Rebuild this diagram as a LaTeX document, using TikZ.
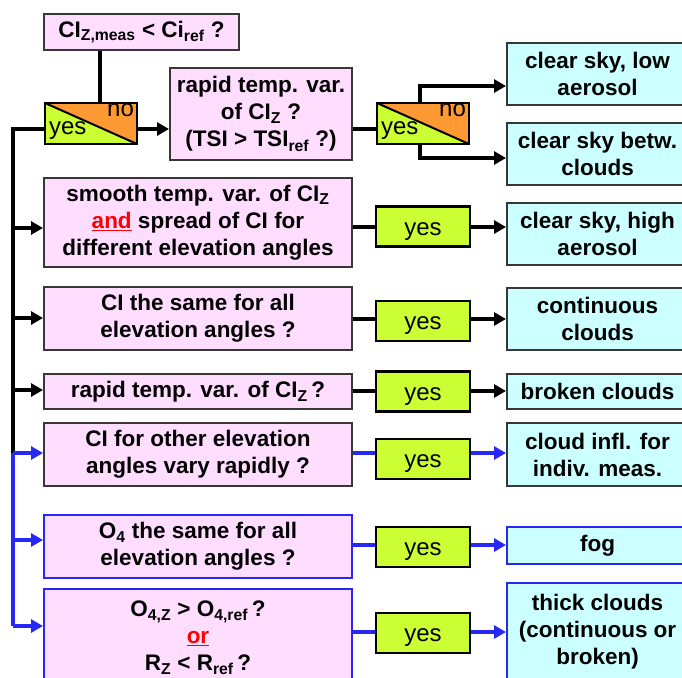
\documentclass[tikz,border=0pt]{standalone}
\usepackage{fontspec}
\setmainfont{Liberation Sans}
\usetikzlibrary{arrows.meta}

\definecolor{qpink}{RGB}{255,221,255}
\definecolor{rcyan}{RGB}{204,255,255}
\definecolor{ygreen}{RGB}{204,255,51}
\definecolor{dorange}{RGB}{255,153,51}
\definecolor{lblue}{RGB}{40,40,245}
\definecolor{bord}{RGB}{55,55,55}

\newcommand\sbs[1]{\textsubscript{#1}}
\newcommand\redul[1]{\textcolor{red}{\underline{#1}}}

\begin{document}
\begin{tikzpicture}[x=1pt,y=-1pt,
  box/.style={draw=bord, line width=2pt, inner sep=0pt, align=center,
    font=\bfseries\fontsize{22.5}{27}\selectfont},
  qbox/.style={box, fill=qpink},
  rbox/.style={box, fill=rcyan, minimum width=181pt},
  ybox/.style={draw=black, line width=2.2pt, fill=ygreen, inner sep=0pt,
    minimum width=94pt, minimum height=40pt, text height=20pt, text depth=3pt,
    font=\fontsize{24}{28}\selectfont},
  decbox/.style={draw=black, line width=2.2pt, fill=ygreen, inner sep=0pt,
    minimum width=92pt, minimum height=41pt,
    path picture={
      \fill[dorange] (path picture bounding box.north west) --
        (path picture bounding box.north east) --
        (path picture bounding box.south east) -- cycle;
      \draw[line width=2pt] (path picture bounding box.north west) --
        (path picture bounding box.south east);}},
  lbl/.style={inner sep=0pt, font=\fontsize{24}{28}\selectfont},
  ln/.style={line width=3.2pt, draw=black},
  arr/.style={ln, -{Triangle[length=12pt,width=13pt]}},
  bl/.style={draw=lblue},
  blarr/.style={arr, draw=lblue, fill=lblue}]

\useasboundingbox (0,0) rectangle (682,677);
\clip (0,0) rectangle (682,677);
\fill[white] (0,0) rectangle (682,677);

% questions on the left
\node[qbox, minimum width=195pt, minimum height=36pt] (top) at (141.5,32)
  {CI\sbs{Z,meas} < Ci\sbs{ref} ?};
\node[decbox] (dec1) at (91,123.5) {};
\node[lbl, anchor=base west] (d1y) at ([xshift=5pt,yshift=11pt]dec1.south west) {yes};
\node[lbl, anchor=base east] (d1n) at ([xshift=-4pt,yshift=-15pt]dec1.north east) {no};
\node[qbox, minimum width=182pt, minimum height=92pt] (rapid1) at (261,114)
  {rapid temp. var.\\ of CI\sbs{Z} ?\\ (TSI > TSI\sbs{ref} ?)};
\node[decbox] (dec2) at (423,123.5) {};
\node[lbl, anchor=base west] (d2y) at ([xshift=5pt,yshift=11pt]dec2.south west) {yes};
\node[lbl, anchor=base east] (d2n) at ([xshift=-4pt,yshift=-15pt]dec2.north east) {no};

\node[qbox, minimum width=308pt, minimum height=89pt] (smooth) at (198,222.5)
  {smooth temp. var. of CI\sbs{Z}\\ \redul{and} spread of CI for\\ different elevation angles};
\node[qbox, minimum width=308pt, minimum height=63pt] (same) at (198,318.5)
  {CI the same for all\\ elevation angles ?};
\node[qbox, minimum width=308pt, minimum height=35pt] (rapid2) at (198,391.5)
  {rapid temp. var. of CI\sbs{Z}\,?};
\node[qbox, minimum width=308pt, minimum height=63pt] (other) at (198,454.5)
  {CI for other elevation\\ angles vary rapidly ?};
\node[qbox, bl, minimum width=308pt, minimum height=63pt] (otwo) at (198,546.5)
  {O\sbs{4} the same for all\\ elevation angles ?};
\node[qbox, bl, minimum width=308pt, minimum height=98pt] (ozr) at (198,638)
  {O\sbs{4,Z} > O\sbs{4,ref}\,?\\ \redul{or}\\ R\sbs{Z} < R\sbs{ref}\,?};

% yes boxes
\node[ybox] (y1) at (423,226.5) {yes};
\node[ybox] (y2) at (423,321) {yes};
\node[ybox] (y3) at (423,391.5) {yes};
\node[ybox] (y4) at (423,459) {yes};
\node[ybox] (y5) at (423,547) {yes};
\node[ybox] (y6) at (423,633) {yes};

% outcomes on the right
\node[rbox, minimum height=62pt] (c1) at (597.5,74) {clear sky, low\\ aerosol};
\node[rbox, minimum height=62pt] (c2) at (597.5,154) {clear sky betw.\\ clouds};
\node[rbox, minimum height=62pt] (c3) at (597.5,234) {clear sky, high\\ aerosol};
\node[rbox, minimum height=62pt] (c4) at (597.5,319) {continuous\\ clouds};
\node[rbox, minimum height=35pt] (c5) at (597.5,391.5) {broken clouds};
\node[rbox, minimum height=63pt] (c6) at (597.5,454.5) {cloud infl. for\\ indiv. meas.};
\node[rbox, bl, minimum height=37pt] (c7) at (597.5,545.5) {fog};
\node[rbox, bl, minimum height=98pt] (c8) at (597.5,632) {thick clouds\\ (continuous or\\ broken)};

% row levels of the connectors
\coordinate (tp) at (100,0);
\coordinate (r0) at (13,129);
\coordinate (r1) at (13,228);
\coordinate (r2) at (13,318);
\coordinate (r3) at (13,390);
\coordinate (r4) at (13,453);
\coordinate (r5) at (13,540);
\coordinate (r6) at (13,626);
\coordinate (a1) at (420,86);
\coordinate (a2) at (420,158);
\coordinate (q1) at (400,227);
\coordinate (q2) at (400,319);
\coordinate (q3) at (400,391);
\coordinate (q4) at (400,453);
\coordinate (q5) at (400,545);
\coordinate (q6) at (400,632);

% top chain
\draw[ln] (top.south -| tp) -- (dec1.north -| tp);
\draw[arr] (dec1.east |- r0) -- (rapid1.west |- r0);
\draw[ln] (rapid1.east |- r0) -- (dec2.west |- r0);
\draw[arr] (dec2.north -| a1) |- (c1.west |- a1);
\draw[arr] (dec2.south -| a2) |- (c2.west |- a2);

% trunk on the left
\draw[ln] (dec1.west |- r0) -- (r0) -- (r4);
\draw[ln, draw=lblue] (r4) -- (r6);
\draw[arr] (r1) -- (smooth.west |- r1);
\draw[arr] (r2) -- (same.west |- r2);
\draw[arr] (r3) -- (rapid2.west |- r3);
\draw[blarr] (r4) -- (other.west |- r4);
\draw[blarr] (r5) -- (otwo.west |- r5);
\draw[blarr] (r6) -- (ozr.west |- r6);

% rows to the yes boxes and outcomes
\draw[ln] (smooth.east |- q1) -- (y1.west |- q1);
\draw[arr] (y1.east |- q1) -- (c3.west |- q1);
\draw[ln] (same.east |- q2) -- (y2.west |- q2);
\draw[arr] (y2.east |- q2) -- (c4.west |- q2);
\draw[ln] (rapid2.east |- q3) -- (y3.west |- q3);
\draw[arr] (y3.east |- q3) -- (c5.west |- q3);
\draw[ln, draw=lblue] (other.east |- q4) -- (y4.west |- q4);
\draw[blarr] (y4.east |- q4) -- (c6.west |- q4);
\draw[ln, draw=lblue] (otwo.east |- q5) -- (y5.west |- q5);
\draw[blarr] (y5.east |- q5) -- (c7.west |- q5);
\draw[ln, draw=lblue] (ozr.east |- q6) -- (y6.west |- q6);
\draw[blarr] (y6.east |- q6) -- (c8.west |- q6);
\end{tikzpicture}
\end{document}
